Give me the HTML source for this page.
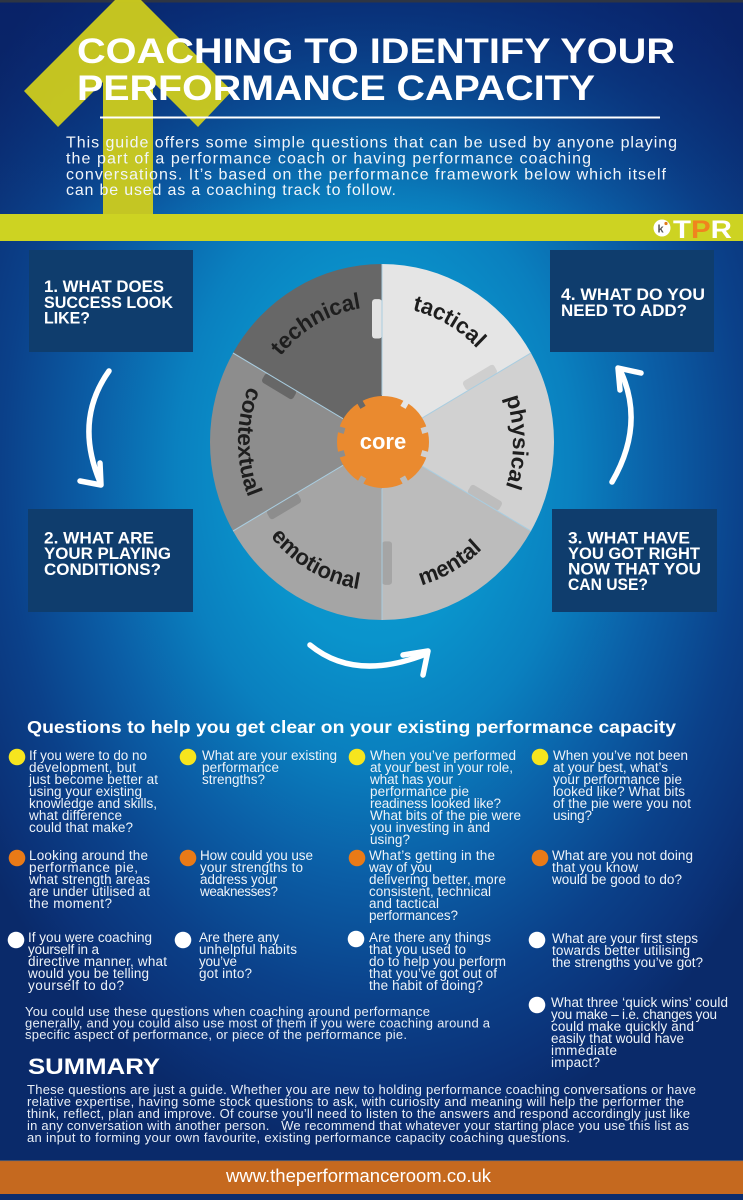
<!DOCTYPE html>
<html>
<head>
<meta charset="utf-8">
<style>
html,body{margin:0;padding:0;background:#0a2a6c;}
svg{display:block;}
text{font-family:"Liberation Sans",Arial,sans-serif;}
</style>
</head>
<body>
<svg width="743" height="1200" viewBox="0 0 743 1200" xmlns="http://www.w3.org/2000/svg">
<defs>
  <radialGradient id="bg" gradientUnits="userSpaceOnUse" cx="375" cy="470" r="680" gradientTransform="translate(375 470) scale(0.7 1) translate(-375 -470)">
    <stop offset="0" stop-color="#0f9fd4"/>
    <stop offset="0.25" stop-color="#0a94cc"/>
    <stop offset="0.42" stop-color="#0a80bf"/>
    <stop offset="0.6" stop-color="#0b5ea6"/>
    <stop offset="0.78" stop-color="#0b418a"/>
    <stop offset="0.92" stop-color="#0b3278"/>
    <stop offset="1" stop-color="#0a2a6a"/>
  </radialGradient>
  <linearGradient id="topdark" x1="0" y1="0" x2="0" y2="1">
    <stop offset="0" stop-color="#081e66" stop-opacity="0.65"/>
    <stop offset="1" stop-color="#081e66" stop-opacity="0"/>
  </linearGradient>
  <mask id="gearmask">
    <rect x="320" y="380" width="130" height="130" fill="#fff"/>
    <g fill="#000">
      <rect x="380" y="393" width="6" height="9" transform="rotate(30 383 442)"/>
      <rect x="380" y="393" width="6" height="9" transform="rotate(74 383 442)"/>
      <rect x="380" y="393" width="6" height="9" transform="rotate(106 383 442)"/>
      <rect x="380" y="393" width="6" height="9" transform="rotate(151 383 442)"/>
      <rect x="380" y="393" width="6" height="9" transform="rotate(209 383 442)"/>
      <rect x="380" y="393" width="6" height="9" transform="rotate(254 383 442)"/>
      <rect x="380" y="393" width="6" height="9" transform="rotate(286 383 442)"/>
      <rect x="380" y="393" width="6" height="9" transform="rotate(330 383 442)"/>
    </g>
  </mask>
  <path id="pTech" d="M-131,0 A131,131 0 0 1 65.5,-113.45"/>
  <path id="pTact" d="M-65.5,-113.45 A131,131 0 0 1 131,0"/>
  <path id="pPhys" d="M65.5,-113.45 A131,131 0 0 1 65.5,113.45"/>
  <path id="pCont" d="M-72,-124.71 A144,144 0 0 0 -72,124.71"/>
  <path id="pEmo" d="M-144,0 A144,144 0 0 0 72,124.71"/>
  <path id="pMent" d="M-72,124.71 A144,144 0 0 0 144,0"/>
</defs>

<!-- background -->
<rect x="0" y="0" width="743" height="1200" fill="url(#bg)"/>
<rect x="0" y="0" width="743" height="215" fill="url(#topdark)"/>
<rect x="0" y="0" width="743" height="2.5" fill="#2e3543"/>

<!-- yellow arrow -->
<polygon points="128,-13 232,91 198,127 153,82 153,214 103,214 103,82 58,127 24,91" fill="#cccb1e" fill-opacity="0.96"/>
<!-- yellow band -->
<rect x="0" y="214" width="743" height="27" fill="#cdd322"/>

<!-- title -->
<g fill="#fff" font-weight="bold" font-size="35">
  <text x="77" y="63" textLength="598" lengthAdjust="spacingAndGlyphs">COACHING TO IDENTIFY YOUR</text>
  <text x="77" y="100" textLength="518" lengthAdjust="spacingAndGlyphs">PERFORMANCE CAPACITY</text>
</g>
<line x1="100" y1="117.5" x2="660" y2="117.5" stroke="#fff" stroke-width="2"/>
<g fill="#f2f6fa" font-size="16">
  <text x="66" y="147.7" textLength="611">This guide offers some simple questions that can be used by anyone playing</text>
  <text x="66" y="163.3" textLength="525">the part of a performance coach or having performance coaching</text>
  <text x="66" y="179.3" textLength="600">conversations. It’s based on the performance framework below which itself</text>
  <text x="66" y="195" textLength="330">can be used as a coaching track to follow.</text>
</g>

<!-- TPR logo -->
<circle cx="662" cy="228" r="8.5" fill="#fff"/>
<text x="657.5" y="232.5" font-size="11" font-weight="bold" fill="#555">k</text>
<circle cx="666" cy="223.5" r="1.6" fill="#e07a1e"/>
<text x="673" y="238" font-size="25" font-weight="bold" fill="#fff" textLength="59" lengthAdjust="spacingAndGlyphs">T<tspan fill="#f0841e">P</tspan>R</text>

<!-- boxes -->
<g fill="#0f3d6d">
  <rect x="29" y="250" width="164" height="102"/>
  <rect x="550" y="250" width="164" height="102"/>
  <rect x="28" y="509" width="165" height="103"/>
  <rect x="552" y="509" width="165" height="103"/>
</g>
<g fill="#fff" font-weight="bold" font-size="16.5">
  <text x="44" y="292" textLength="120" lengthAdjust="spacingAndGlyphs">1. WHAT DOES</text>
  <text x="44" y="308" textLength="129" lengthAdjust="spacingAndGlyphs">SUCCESS LOOK</text>
  <text x="44" y="323.5" textLength="46" lengthAdjust="spacingAndGlyphs">LIKE?</text>
  <text x="561" y="300" textLength="144" lengthAdjust="spacingAndGlyphs">4. WHAT DO YOU</text>
  <text x="561" y="316" textLength="126" lengthAdjust="spacingAndGlyphs">NEED TO ADD?</text>
  <text x="44" y="543.5" textLength="110" lengthAdjust="spacingAndGlyphs">2. WHAT ARE</text>
  <text x="44" y="559" textLength="127" lengthAdjust="spacingAndGlyphs">YOUR PLAYING</text>
  <text x="44" y="575" textLength="117" lengthAdjust="spacingAndGlyphs">CONDITIONS?</text>
  <text x="568" y="543.5" textLength="122" lengthAdjust="spacingAndGlyphs">3. WHAT HAVE</text>
  <text x="568" y="559" textLength="132" lengthAdjust="spacingAndGlyphs">YOU GOT RIGHT</text>
  <text x="568" y="574.5" textLength="133" lengthAdjust="spacingAndGlyphs">NOW THAT YOU</text>
  <text x="568" y="590" textLength="80" lengthAdjust="spacingAndGlyphs">CAN USE?</text>
</g>

<!-- pie -->
<g transform="translate(382 442) scale(1 1.035)">
  <path d="M0,0 L0,-172 A172,172 0 0 1 148.96,-86 Z" fill="#e5e5e5"/>
  <path d="M0,0 L148.96,-86 A172,172 0 0 1 148.96,86 Z" fill="#d1d1d1"/>
  <path d="M0,0 L148.96,86 A172,172 0 0 1 0,172 Z" fill="#bcbcbc"/>
  <path d="M0,0 L0,172 A172,172 0 0 1 -148.96,86 Z" fill="#a5a5a5"/>
  <path d="M0,0 L-148.96,86 A172,172 0 0 1 -148.96,-86 Z" fill="#8d8d8d"/>
  <path d="M0,0 L-148.96,-86 A172,172 0 0 1 0,-172 Z" fill="#676767"/>
  <!-- puzzle tabs -->
  <rect x="100" y="-10" width="38" height="10" rx="3" fill="#e3e3e3" transform="rotate(-90)"/>
  <rect x="98" y="-10" width="36" height="10" rx="3" fill="#cfcfcf" transform="rotate(-30)"/>
  <rect x="98" y="-10" width="36" height="10" rx="3" fill="#bdbdbd" transform="rotate(30)"/>
  <rect x="96" y="-10" width="42" height="10" rx="3" fill="#a5a5a5" transform="rotate(90)"/>
  <rect x="98" y="-10" width="36" height="10" rx="3" fill="#8d8d8d" transform="rotate(150)"/>
  <rect x="98" y="-10" width="36" height="10" rx="3" fill="#676767" transform="rotate(-150)"/>
  <!-- dividers -->
  <g stroke="#a9cde0" stroke-width="1">
    <line x1="0" y1="-45" x2="0" y2="-172"/>
    <line x1="39" y1="-22.5" x2="148.96" y2="-86"/>
    <line x1="39" y1="22.5" x2="148.96" y2="86"/>
    <line x1="0" y1="45" x2="0" y2="172"/>
    <line x1="-39" y1="22.5" x2="-148.96" y2="86"/>
    <line x1="-39" y1="-22.5" x2="-148.96" y2="-86"/>
  </g>
  <g font-size="22" font-weight="bold" fill="#1e1e1e" text-anchor="middle">
    <text><textPath href="#pTech" startOffset="50%">technical</textPath></text>
    <text><textPath href="#pTact" startOffset="50%">tactical</textPath></text>
    <text><textPath href="#pPhys" startOffset="50%">physical</textPath></text>
    <text><textPath href="#pCont" startOffset="50%">contextual</textPath></text>
    <text><textPath href="#pEmo" startOffset="50%">emotional</textPath></text>
    <text><textPath href="#pMent" startOffset="50%">mental</textPath></text>
  </g>
</g>
<!-- gear -->
<circle cx="383" cy="442" r="46" fill="#ea8a2f" mask="url(#gearmask)"/>
<text x="383" y="449" font-size="22" font-weight="bold" fill="#fff" text-anchor="middle">core</text>

<!-- flow arrows -->
<g fill="none" stroke="#fff" stroke-width="5.5" stroke-linecap="round" stroke-linejoin="round">
  <path d="M109,371 Q74,420 100,482"/>
  <path d="M80,481 L101,485 L100,463"/>
  <path d="M612,482 Q645,425 621,372"/>
  <path d="M641,373 L618,368 L620,390"/>
  <path d="M310,645 Q355,682 426,654"/>
  <path d="M403,655 L428,651 L423,675"/>
</g>

<!-- questions heading -->
<text x="27" y="733" font-size="17.5" font-weight="bold" fill="#fff" textLength="649" lengthAdjust="spacingAndGlyphs">Questions to help you get clear on your existing performance capacity</text>

<!-- bullets -->
<g fill="#f6e51e">
  <circle cx="17" cy="757" r="8.3"/><circle cx="188" cy="757" r="8.3"/><circle cx="357" cy="757" r="8.3"/><circle cx="540" cy="757" r="8.3"/>
</g>
<g fill="#e97a17">
  <circle cx="17" cy="858" r="8.3"/><circle cx="188" cy="858" r="8.3"/><circle cx="357" cy="858" r="8.3"/><circle cx="540" cy="858" r="8.3"/>
</g>
<g fill="#fff">
  <circle cx="16" cy="940" r="8.3"/><circle cx="183" cy="940" r="8.3"/><circle cx="356" cy="939" r="8.3"/><circle cx="537" cy="940" r="8.3"/><circle cx="537" cy="1005" r="8.3"/>
</g>

<g fill="#eef3f8" font-size="13.5">
  <!-- row 1 -->
  <text x="29" y="760" textLength="118">If you were to do no</text>
  <text x="29" y="772" textLength="107">development, but</text>
  <text x="29" y="784" textLength="129">just become better at</text>
  <text x="29" y="796" textLength="113">using your existing</text>
  <text x="29" y="808" textLength="128">knowledge and skills,</text>
  <text x="29" y="820" textLength="93">what difference</text>
  <text x="29" y="832" textLength="104">could that make?</text>

  <text x="202" y="760" textLength="135">What are your existing</text>
  <text x="202" y="772" textLength="77">performance</text>
  <text x="202" y="784" textLength="63">strengths?</text>

  <text x="370" y="760" textLength="146">When you’ve performed</text>
  <text x="370" y="772" textLength="143">at your best in your role,</text>
  <text x="370" y="784" textLength="83">what has your</text>
  <text x="370" y="796" textLength="99">performance pie</text>
  <text x="370" y="808" textLength="131">readiness looked like?</text>
  <text x="370" y="820" textLength="151">What bits of the pie were</text>
  <text x="370" y="832" textLength="120">you investing in and</text>
  <text x="370" y="844" textLength="40">using?</text>

  <text x="553" y="760" textLength="135">When you’ve not been</text>
  <text x="553" y="772" textLength="115">at your best, what’s</text>
  <text x="553" y="784" textLength="129">your performance pie</text>
  <text x="553" y="796" textLength="132">looked like? What bits</text>
  <text x="553" y="808" textLength="138">of the pie were you not</text>
  <text x="553" y="820" textLength="39">using?</text>

  <!-- row 2 -->
  <text x="29" y="860" textLength="119">Looking around the</text>
  <text x="29" y="872" textLength="109">performance pie,</text>
  <text x="29" y="884" textLength="121">what strength areas</text>
  <text x="29" y="896" textLength="121">are under utilised at</text>
  <text x="29" y="908" textLength="83">the moment?</text>

  <text x="200" y="860" textLength="113">How could you use</text>
  <text x="200" y="872" textLength="103">your strengths to</text>
  <text x="200" y="884" textLength="77">address your</text>
  <text x="200" y="896" textLength="78">weaknesses?</text>

  <text x="369" y="860" textLength="126">What’s getting in the</text>
  <text x="369" y="872" textLength="63">way of you</text>
  <text x="369" y="884" textLength="137">delivering better, more</text>
  <text x="369" y="896" textLength="122">consistent, technical</text>
  <text x="369" y="908" textLength="70">and tactical</text>
  <text x="369" y="920" textLength="89">performances?</text>

  <text x="552" y="860" textLength="141">What are you not doing</text>
  <text x="552" y="872" textLength="86">that you know</text>
  <text x="552" y="884" textLength="130">would be good to do?</text>

  <!-- row 3 -->
  <text x="28" y="942" textLength="124">If you were coaching</text>
  <text x="28" y="954" textLength="71">yourself in a</text>
  <text x="28" y="966" textLength="139">directive manner, what</text>
  <text x="28" y="978" textLength="121">would you be telling</text>
  <text x="28" y="990" textLength="96">yourself to do?</text>

  <text x="199" y="942" textLength="80">Are there any</text>
  <text x="199" y="954" textLength="98">unhelpful habits</text>
  <text x="199" y="966" textLength="38">you’ve</text>
  <text x="199" y="978" textLength="53">got into?</text>

  <text x="369" y="942" textLength="122">Are there any things</text>
  <text x="369" y="954" textLength="97">that you used to</text>
  <text x="369" y="966" textLength="137">do to help you perform</text>
  <text x="369" y="978" textLength="128">that you’ve got out of</text>
  <text x="369" y="990" textLength="114">the habit of doing?</text>

  <text x="552" y="943" textLength="146">What are your first steps</text>
  <text x="552" y="955" textLength="138">towards better utilising</text>
  <text x="552" y="967" textLength="151">the strengths you’ve got?</text>

  <text x="551" y="1007" textLength="177">What three ‘quick wins’ could</text>
  <text x="551" y="1019" textLength="166">you make – i.e. changes you</text>
  <text x="551" y="1031" textLength="143">could make quickly and</text>
  <text x="551" y="1043" textLength="133">easily that would have</text>
  <text x="551" y="1055" textLength="66">immediate</text>
  <text x="551" y="1067" textLength="49">impact?</text>
</g>

<g fill="#e8eef6" font-size="13">
  <text x="25" y="1016" textLength="405">You could use these questions when coaching around performance</text>
  <text x="25" y="1027.5" textLength="465">generally, and you could also use most of them if you were coaching around a</text>
  <text x="25" y="1039" textLength="382">specific aspect of performance, or piece of the performance pie.</text>
</g>

<text x="28" y="1074" font-size="22" font-weight="bold" fill="#fff" textLength="132" lengthAdjust="spacingAndGlyphs">SUMMARY</text>

<g fill="#e8eef6" font-size="13">
  <text x="27" y="1094" textLength="669">These questions are just a guide. Whether you are new to holding performance coaching conversations or have</text>
  <text x="27" y="1106" textLength="657">relative expertise, having some stock questions to ask, with curiosity and meaning will help the performer the</text>
  <text x="27" y="1118" textLength="663">think, reflect, plan and improve. Of course you’ll need to listen to the answers and respond accordingly just like</text>
  <text x="27" y="1130" textLength="662" style="white-space:pre">in any conversation with another person.   We recommend that whatever your starting place you use this list as</text>
  <text x="27" y="1142" textLength="543">an input to forming your own favourite, existing performance capacity coaching questions.</text>
</g>

<!-- footer -->
<rect x="0" y="1161" width="743" height="33" fill="#c5691f"/>
<rect x="0" y="1160" width="743" height="1.2" fill="#6d6a6a" opacity="0.6"/>
<text x="226" y="1182" font-size="18" fill="#fff" textLength="265" lengthAdjust="spacingAndGlyphs">www.theperformanceroom.co.uk</text>
<rect x="0" y="1194" width="743" height="6" fill="#0b2c6c"/>
</svg>
</body>
</html>
